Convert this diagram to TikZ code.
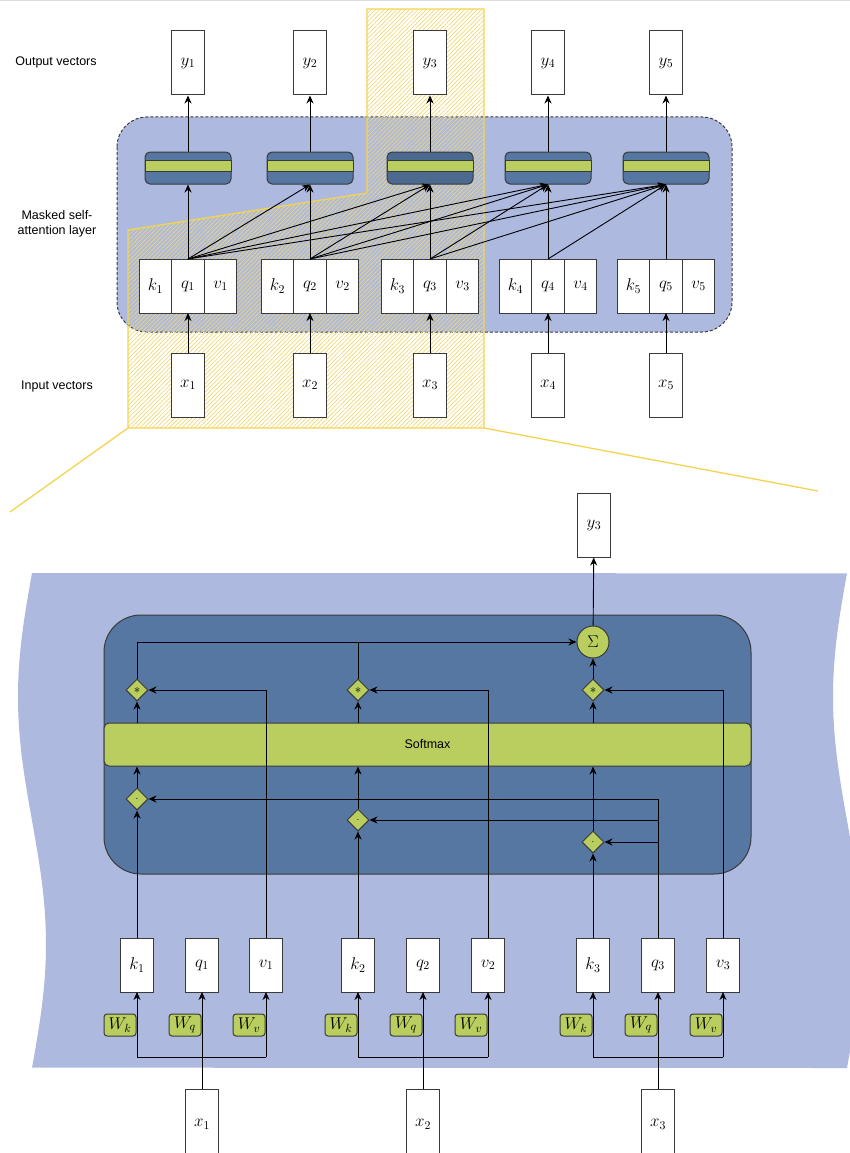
\documentclass[tikz,border=0pt]{standalone}
\usepackage{fix-cm}
\usepackage{fontspec}
\setmainfont{Liberation Sans}
\usetikzlibrary{arrows.meta,shapes.geometric,patterns.meta,calc}
\definecolor{paleblue}{HTML}{ADB9DF}
\definecolor{deepblue}{HTML}{5677A2}
\definecolor{lime}{HTML}{B9CE5E}
\definecolor{gold}{HTML}{F4D44E}
\definecolor{hatchy}{HTML}{F0D870}
\definecolor{edge}{HTML}{3A3A3A}
\newcommand\mathsize{\fontsize{17}{19}\selectfont}
\newcommand\labelsize{\fontsize{12.5}{15}\selectfont}
\begin{document}
\begin{tikzpicture}[x=1pt,y=-1pt,
  vec/.style={draw=edge, fill=white, line width=1pt, minimum width=33pt,
    minimum height=64pt, inner sep=0pt, font=\mathsize},
  cell/.style={vec, minimum width=32.5pt, minimum height=54pt, outer sep=0pt},
  bar/.style={draw=edge, fill=deepblue, line width=1pt, rounded corners=5pt,
    minimum width=86pt, minimum height=32pt, inner sep=0pt},
  gate/.style={diamond, aspect=1, draw=edge, fill=lime, line width=1pt,
    minimum width=22pt, minimum height=22pt, inner sep=0pt},
  wbox/.style={draw=edge, fill=lime, line width=1pt, rounded corners=3pt,
    minimum width=32pt, minimum height=22pt, inner sep=0pt, font=\mathsize},
  lab/.style={font=\labelsize, align=center},
  wire/.style={line width=0.9pt, -{Stealth[length=8pt,width=7pt]}},
  plainwire/.style={line width=0.9pt},
]
\clip (0,0) rectangle (850,1153);
\fill[black!14] (0,0) rectangle (850,1.5);

% ---------- side labels ----------
\node[lab] (outlab) at (56,62) {Output vectors};
\node[lab] (masklab) at (57,224) {Masked self-\\attention layer};
\node[lab] (inlab) at (57,386) {Input vectors};

% ---------- masked self-attention layer ----------
\draw[fill=paleblue, draw=edge, line width=1pt, dash pattern=on 3pt off 2pt,
  rounded corners=30pt] (117,117) rectangle (732,332);

% highlighted region for y_3
\fill[pattern={Lines[angle=45,distance=3pt,line width=0.7pt]}, pattern color=hatchy,
  fill opacity=0.7]
  (367,9) -- (484,9) -- (484,428) -- (128,428) -- (128,230) -- (367,193) -- cycle;

% blending units
\foreach \i/\c/\shade in {1/188/0,2/310/0,3/430/12,4/548/0,5/666/0} {
  \node[bar, fill=deepblue!\the\numexpr100-\shade\relax!black] (b\i) at (\c,168) {};
  \draw[fill=lime, draw=edge, line width=1pt] (\c-43,160) rectangle (\c+43,171);
}

\draw[gold, line width=1.3pt]
  (367,9) -- (484,9) -- (484,428) -- (128,428) -- (128,230) -- (367,193) -- cycle;
\draw[gold, line width=1.3pt] (128,428) -- (10,512);
\draw[gold, line width=1.3pt] (484,428) -- (818,491);

\foreach \i/\c in {1/188,2/310,3/430,4/548,5/666} {
  \node[vec] (y\i) at (\c,63) {$y_\i$};
  \node[cell] (q\i) at (\c,286) {$q_\i$};
  \node[cell, anchor=east] (k\i) at (q\i.west) {$k_\i$};
  \node[cell, anchor=west] (v\i) at (q\i.east) {$v_\i$};
  \node[vec] (x\i) at (\c,385) {$x_\i$};
}
\foreach \i in {1,...,5} {
  \draw[wire] (x\i) -- (q\i);
  \draw[wire] (b\i) -- (y\i);
  \foreach \j in {\i,...,5} {
    \draw[wire] (q\i.north) -- (b\j.south);
  }
}

% ---------- detailed view ----------
\fill[paleblue]
  plot[domain=0:1, samples=80, smooth] ({32-14*sin(360*\x)}, {573+495*\x})
  -- plot[domain=1:0, samples=80, smooth] ({847-14*sin(360*\x)}, {573+495*\x})
  -- cycle;

\draw[fill=deepblue, draw=edge, line width=1pt, rounded corners=37pt]
  (104,615) rectangle (751,874);
\node[draw=edge, fill=lime, line width=1pt, rounded corners=5pt,
  minimum width=647pt, minimum height=43pt, inner sep=0pt, font=\labelsize]
  (sm) at (427.5,744.5) {Softmax};

\node[circle, draw=edge, fill=lime, line width=1pt, minimum size=32pt,
  inner sep=0pt, font=\mathsize] (sig) at (593,642) {$\Sigma$};
\node[vec] (yo) at (594,525) {$y_3$};

\node[gate] (s1) at (137,690) {\fontsize{13}{13}\selectfont$\ast$};
\node[gate] (s2) at (358,690) {\fontsize{13}{13}\selectfont$\ast$};
\node[gate] (s3) at (593,690) {\fontsize{13}{13}\selectfont$\ast$};
\node[gate] (d1) at (137,799) {$\cdot$};
\node[gate] (d2) at (358,820) {$\cdot$};
\node[gate] (d3) at (593,842) {$\cdot$};

\foreach \i/\k/\q/\v in {1/137/202/266, 2/358/423/488, 3/593/658/723} {
  \node[cell] (K\i) at (\k,965) {$k_\i$};
  \node[cell] (Q\i) at (\q,965) {$q_\i$};
  \node[cell] (V\i) at (\v,965) {$v_\i$};
  \node[wbox] (WK\i) at (\k-17,1025) {$W_k$};
  \node[wbox] (WQ\i) at (\q-17,1025) {$W_q$};
  \node[wbox] (WV\i) at (\v-17,1025) {$W_v$};
  \node[vec, minimum height=71pt] (X\i) at (\q,1124.5) {$x_\i$};
  \coordinate (JK\i) at (\k,1057);
  \coordinate (JV\i) at (\v,1057);
  \draw[wire] (X\i) -- (Q\i);
  \draw[plainwire] (JK\i) -- (JV\i);
  \draw[wire] (JK\i) -- (K\i);
  \draw[wire] (JV\i) -- (V\i);
}

% keys -> dot products -> softmax -> weighting
\foreach \i in {1,2,3} {
  \draw[wire] (K\i) -- (d\i);
  \draw[wire] (d\i) -- (d\i |- sm.south);
  \draw[wire] (s\i |- sm.north) -- (s\i);
  \draw[wire] (V\i) |- (s\i);
}
% query of position 3 against every key
\draw[wire] (Q3) |- (d1);
\draw[wire] (Q3 |- d2) -- (d2);
\draw[wire] (Q3 |- d3) -- (d3);
% weighted values into the sum
\draw[wire] (s1) |- (sig);
\draw[plainwire] (s2) -- (s2 |- sig);
\draw[wire] (s3) -- (sig);
\draw[wire] (sig) -- (yo);
\end{tikzpicture}
\end{document}
